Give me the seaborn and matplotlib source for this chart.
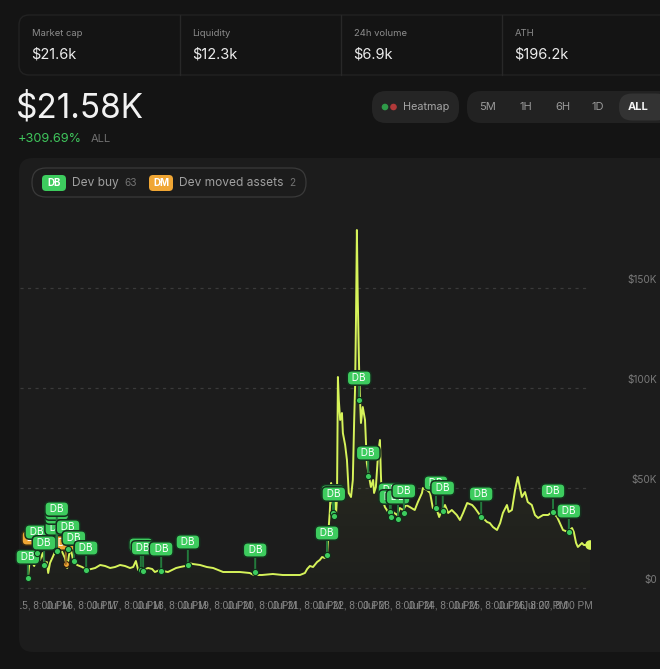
import numpy as np
import pandas as pd
import matplotlib
matplotlib.use('Agg')
import matplotlib.pyplot as plt
import matplotlib.transforms as mtransforms
from matplotlib.patches import FancyBboxPatch, Rectangle, Circle
from matplotlib.colors import to_rgb
import seaborn as sns

# market cap line: days since Jul 15 8:00 PM, value in $K
t_days = [-0.18, -0.15, -0.11, -0.04, 0.02, 0.09, 0.15, 0.20, 0.24, 0.27,
          0.31, 0.38, 0.44, 0.51, 0.58, 0.64, 0.69, 0.73, 0.77, 0.82,
          0.91, 1.02, 1.13, 1.31, 1.42, 1.53, 1.64, 1.75, 1.86, 1.97,
          2.08, 2.15, 2.21, 2.26, 2.37, 2.48, 2.57, 2.63, 2.74, 2.81,
          2.92, 3.01, 3.10, 3.19, 3.30, 3.38, 3.47, 3.63, 3.78, 3.92,
          4.14, 4.51, 4.73, 4.82, 5.00, 5.24, 5.46, 5.84, 5.95, 6.00,
          6.06, 6.13, 6.22, 6.28, 6.33, 6.39, 6.44, 6.46, 6.48, 6.50,
          6.53, 6.55, 6.57, 6.61, 6.64, 6.66, 6.68, 6.70, 6.73, 6.77,
          6.79, 6.84, 6.88, 6.92, 6.97, 7.01, 7.04, 7.06, 7.08, 7.10,
          7.12, 7.15, 7.17, 7.19, 7.23, 7.28, 7.32, 7.37, 7.41, 7.46,
          7.48, 7.52, 7.54, 7.57, 7.61, 7.63, 7.65, 7.72, 7.79, 7.83,
          7.90, 7.99, 8.05, 8.12, 8.19, 8.27, 8.38, 8.45, 8.54, 8.56,
          8.65, 8.72, 8.78, 8.87, 8.92, 8.98, 9.05, 9.12, 9.20, 9.31,
          9.38, 9.45, 9.54, 9.65, 9.71, 9.82, 9.89, 9.98, 10.04, 10.11,
          10.20, 10.27, 10.33, 10.42, 10.46, 10.53, 10.60, 10.66, 10.75, 10.82,
          10.88, 10.97, 11.04, 11.11, 11.22, 11.33, 11.42, 11.53, 11.59, 11.66,
          11.77, 11.86, 11.90, 11.95, 11.99, 12.08, 12.12, 12.26]
mcap_k = [5, 11.5, 14, 11, 16, 14, 17.5, 11.5, 13, 7.5,
          12.5, 16, 19, 20.5, 18, 15, 10, 16.5, 19.5, 14,
          11.5, 10.5, 9, 10, 11.5, 11, 10, 10.5, 11.5, 11,
          10, 10.5, 13.5, 9, 9, 10, 9.5, 8, 9, 8.5,
          8, 9, 10, 10.5, 11, 12.5, 12, 11.5, 10.5, 10,
          8, 8, 7.5, 6.5, 6.5, 7, 6.5, 6.5, 7.5, 9.5,
          11, 10.5, 13, 14, 15.5, 15, 16.5, 24, 31.5, 38,
          52.5, 44, 41.5, 44, 37.5, 45.5, 105.5, 94, 84, 87.5,
          77.5, 71.5, 64, 47.5, 45.5, 54, 84, 100.5, 134, 179,
          144, 109, 94, 82.5, 90.5, 84, 62.5, 55.5, 50.5, 54,
          47.5, 50.5, 57.5, 67.5, 74, 57.5, 45.5, 40.5, 38, 39,
          38, 36.5, 40, 39, 41.5, 40.5, 39, 43, 47.5, 50,
          49, 47.5, 40, 39, 35.5, 39, 41.5, 37.5, 39, 36.5,
          34, 37.5, 42.5, 41.5, 40, 36.5, 35, 33, 32.5, 30.5,
          29, 32.5, 37.5, 41.5, 38, 39, 49, 55.5, 45.5, 48,
          43, 41.5, 36.5, 35, 36.5, 36.5, 38, 35.5, 32.5, 29,
          28, 30, 28, 22.5, 20.5, 22.5, 21.5, 21.5]

# dev buy events (where they sit on the line)
buy_t = [-0.18, 0.02, 0.18, 0.46, 0.46, 0.46, 0.46, 0.71, 0.84, 1.11,
         2.32, 2.37, 2.77, 3.36, 4.85, 6.44, 6.57, 6.59, 7.15, 7.35,
         7.83, 7.85, 8.01, 8.14, 8.85, 9.00, 9.85, 11.44, 11.79]
buy_k = [5, 17.5, 11.5, 18.5, 18.5, 18.5, 18.5, 19.5, 13.5, 9,
         9, 8.5, 8.5, 11.5, 8, 16.5, 37.5, 36, 94, 56,
         38, 35.5, 34.5, 37.5, 40, 38.5, 35.5, 38, 28]
# dev moved assets events
move_t = [-0.02, 0.66]
move_k = [14, 12]

tick_days = [0, 1, 2, 3, 4, 5, 6, 7, 8, 9, 10, 11, 11.55]
tick_labels = ['Jul %d, 8:00 PM' % d for d in range(15, 28)]
y_ticks = [0, 50, 100, 150]
y_labels = ['$0', '$50K', '$100K', '$150K']

stat_names = ['Market cap', 'Liquidity', '24h volume', 'ATH']
stat_values = ['$21.6k', '$12.3k', '$6.9k', '$196.2k']
ranges = ['5M', '1H', '6H', '1D', 'ALL']

BG = '#141414'
PANEL = '#1c1c1c'
LINE = '#d6f35a'
GREEN = '#3dcc5e'
ORANGE = '#f0a634'

sns.set_theme(style='dark', rc={'axes.facecolor': PANEL, 'figure.facecolor': BG})
plt.rcParams['font.family'] = ['Inter', 'DejaVu Sans']

fig = plt.figure(figsize=(6.6, 6.69), dpi=100, facecolor=BG)

# background layer in pixel units for the page chrome
bg = fig.add_axes([0, 0, 1, 1])
bg.set_xlim(0, 660)
bg.set_ylim(669, 0)
bg.axis('off')

# stats card
bg.add_patch(FancyBboxPatch((19, 15), 660, 60, boxstyle='round,pad=0,rounding_size=10',
                            fc=BG, ec='#222222', lw=1))
for i, (n, v) in enumerate(zip(stat_names, stat_values)):
    x0 = 31.5 + i * 161
    bg.text(x0, 34, n, fontsize=6.8, color='#8c8c8c', va='center')
    bg.text(x0, 54, v, fontsize=10.5, color='#ececec', va='center')
    if i > 0:
        bg.plot([x0 - 12.5, x0 - 12.5], [15, 75], color='#282828', lw=1)

bg.text(16, 108, '$21.58K', fontsize=24, color='#f2f2f2', va='center')
bg.text(18, 139, '+309.69%', fontsize=9.2, color='#3fc55c', va='center')
bg.text(91, 139, 'ALL', fontsize=8, color='#707070', va='center')

# heatmap toggle
bg.add_patch(FancyBboxPatch((372, 91), 87, 32, boxstyle='round,pad=0,rounding_size=14',
                            fc='#252525', ec='none'))
bg.add_patch(Circle((385, 107), 2.6, color='#2f9a49'))
bg.add_patch(Circle((393.5, 107), 2.6, color='#b13a3a'))
bg.text(403, 107, 'Heatmap', fontsize=7.8, color='#a6a6a6', va='center')

# time range selector
bg.add_patch(FancyBboxPatch((467, 91), 210, 32, boxstyle='round,pad=0,rounding_size=14',
                            fc='#222222', ec='none'))
bg.add_patch(FancyBboxPatch((619, 93.5), 50, 27, boxstyle='round,pad=0,rounding_size=13',
                            fc='#333333', ec='none'))
for r, xc in zip(ranges, [488, 526, 563, 598, 638]):
    sel = r == 'ALL'
    bg.text(xc, 107, r, fontsize=8, color='#f2f2f2' if sel else '#9a9a9a',
            ha='center', va='center', fontweight='bold' if sel else 'normal')

# chart panel
bg.add_patch(FancyBboxPatch((19, 158), 660, 494, boxstyle='round,pad=0,rounding_size=14',
                            fc=PANEL, ec='none'))

# legend pill
bg.add_patch(FancyBboxPatch((32, 168), 274, 29, boxstyle='round,pad=0,rounding_size=14',
                            fc='none', ec='#3a3a3a', lw=0.9))
for (bx, lab, col, txt, cnt, cx) in [(42, 'DB', GREEN, 'Dev buy', '63', 124),
                                      (149, 'DM', ORANGE, 'Dev moved assets', '2', 289)]:
    bg.add_patch(FancyBboxPatch((bx, 175), 24, 16, boxstyle='round,pad=0,rounding_size=4',
                                fc=col, ec='none'))
    bg.text(bx + 12, 183.5, lab, fontsize=7, color='white', ha='center', va='center',
            fontweight='bold')
    bg.text(bx + 30, 183, txt, fontsize=8.6, color='#a0a0a0', va='center')
    bg.text(cx, 183, cnt, fontsize=7.3, color='#727272', va='center')

# chart axes
ax = fig.add_axes([20 / 660, (669 - 588) / 669, 571 / 660, (588 - 210) / 669])
ax.patch.set_alpha(0)
df = pd.DataFrame({'t': t_days, 'mcap': mcap_k})
xlim = (-0.354, 12.28)
ylim = (0, 189)

for y in y_ticks:
    ax.axhline(y, xmax=(587 - 20) / 571, color='#3a3a3a', lw=0.9,
               ls=(0, (2.5, 3.5)), zorder=0, clip_on=False)

# gradient under the line
grad = np.zeros((256, 1, 4))
grad[..., :3] = to_rgb(LINE)
grad[:, 0, 3] = np.linspace(0.015, 0.14, 256)
im = ax.imshow(grad, extent=[xlim[0], xlim[1], ylim[0], ylim[1]], origin='lower',
               aspect='auto', zorder=1, interpolation='bilinear')
poly = ax.fill_between(df['t'], df['mcap'], 0, color='none', lw=0)
im.set_clip_path(poly.get_paths()[0], transform=ax.transData)

sns.lineplot(data=df, x='t', y='mcap', ax=ax, color=LINE, linewidth=1.4,
             sort=False, estimator=None, zorder=3)

# event badges
move_lift = [22, 21]
buy_lift = [21, 21, 22, 23, 34, 38, 42, 22, 23, 22,
            25, 23, 22, 23, 22, 22, 21, 22, 22, 23,
            22, 20, 22, 22, 25, 23, 23, 21, 21]


def badge(x, y, lift, lab, col, edge, stem, z):
    ax.annotate(' %s ' % lab, xy=(x, y), xytext=(0, lift * 0.72), textcoords='offset points',
                ha='center', va='center', fontsize=7.2, color='white', zorder=z,
                bbox=dict(boxstyle='round,pad=0.22,rounding_size=0.45', fc=col, ec=edge, lw=1.1),
                arrowprops=dict(arrowstyle='-', color=stem, lw=1.4, shrinkA=0, shrinkB=0))


for x, y, l in zip(move_t, move_k, move_lift):
    badge(x, y, l, 'DM', ORANGE, '#3a2a10', '#9a6a20', 4)
for x, y, l in zip(buy_t, buy_k, buy_lift):
    badge(x, y, l, 'DB', GREEN, '#15301e', '#237a3c', 5)

sns.scatterplot(x=move_t, y=move_k, ax=ax, s=18, color=ORANGE, edgecolor='#2a1e0c',
                linewidth=0.8, zorder=3.5, legend=False)
sns.scatterplot(x=buy_t, y=buy_k, ax=ax, s=20, color=GREEN, edgecolor='#0f2e18',
                linewidth=0.8, zorder=6, legend=False)
sns.scatterplot(data=df.tail(1), x='t', y='mcap', ax=ax, s=48, color=LINE,
                edgecolor='none', zorder=7, legend=False)

ax.set_xlim(*xlim)
ax.set_ylim(*ylim)
for s in ax.spines.values():
    s.set_visible(False)
ax.grid(False)
ax.set_xlabel('')
ax.set_ylabel('')
ax.set_yticks([])

ax.set_xticks(tick_days)
ax.set_xticklabels(tick_labels, fontsize=7.2, color='#858585', family='Liberation Sans')
ax.tick_params(axis='x', length=0, pad=8.8)
clip = Rectangle((20, 580), 640, 60, transform=bg.transData)
for lbl in ax.get_xticklabels():
    lbl.set_clip_path(clip)

ytrans = mtransforms.offset_copy(mtransforms.blended_transform_factory(ax.transAxes, ax.transData),
                                 fig=fig, y=8, units='dots')
for y, lab in zip(y_ticks, y_labels):
    ax.text((657 - 20) / 571, y, lab, transform=ytrans, ha='right', va='center',
            fontsize=7.2, color='#7a7a7a', clip_on=False)

fig.savefig('out.png', dpi=100, facecolor=BG)
